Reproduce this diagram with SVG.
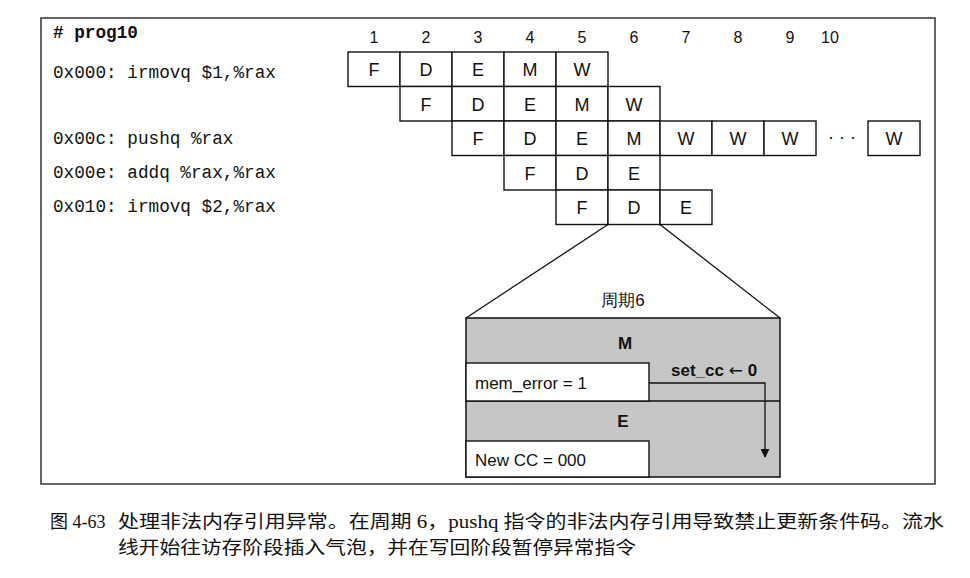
<svg xmlns="http://www.w3.org/2000/svg" width="970" height="578" viewBox="0 0 970 578">
<style>
.code{font-family:"Liberation Mono",monospace;font-size:17.7px;fill:#111}
.st{font-family:"Liberation Sans",Arial,sans-serif;font-size:18px;fill:#111;text-anchor:middle}
.num{font-family:"Liberation Sans",Arial,sans-serif;font-size:16px;fill:#111;text-anchor:middle}
.box{fill:#fff;stroke:#111;stroke-width:1.4}
.lbl{font-family:"Liberation Sans",Arial,sans-serif;font-size:17px;fill:#111}
.cap{font-family:"Liberation Serif","Noto Sans CJK SC",serif;font-size:18px;fill:#111}
.conn{fill:none;stroke:#111;stroke-width:1.3}
.shade{fill:#c6c6c6}
</style>
<defs>
<marker id="ah" viewBox="0 0 10 10" refX="9" refY="5" markerWidth="9" markerHeight="9" markerUnits="userSpaceOnUse" orient="auto">
<path d="M0,0 L10,5 L0,10 z" fill="#111"/>
</marker>
</defs>
<rect width="970" height="578" fill="#fff"/>
<rect id="frame" x="41" y="18" width="894" height="466" fill="none" stroke="#333" stroke-width="1.5"/>

<g id="code">
<text class="code" x="53" y="38" font-weight="bold"># prog10</text>
<text class="code" x="53" y="78">0x000: irmovq $1,%rax</text>
<text class="code" x="53" y="144">0x00c: pushq %rax</text>
<text class="code" x="53" y="178">0x00e: addq %rax,%rax</text>
<text class="code" x="53" y="212">0x010: irmovq $2,%rax</text>
</g>

<g id="cycles">
<text class="num" x="374" y="43">1</text>
<text class="num" x="426" y="43">2</text>
<text class="num" x="478" y="43">3</text>
<text class="num" x="530" y="43">4</text>
<text class="num" x="582" y="43">5</text>
<text class="num" x="634" y="43">6</text>
<text class="num" x="686" y="43">7</text>
<text class="num" x="738" y="43">8</text>
<text class="num" x="790" y="43">9</text>
<text class="num" x="830" y="43">10</text>
</g>

<g id="row1">
<rect class="box" x="348" y="52" width="52" height="34.5"/><text class="st" x="374" y="76">F</text>
<rect class="box" x="400" y="52" width="52" height="34.5"/><text class="st" x="426" y="76">D</text>
<rect class="box" x="452" y="52" width="52" height="34.5"/><text class="st" x="478" y="76">E</text>
<rect class="box" x="504" y="52" width="52" height="34.5"/><text class="st" x="530" y="76">M</text>
<rect class="box" x="556" y="52" width="52" height="34.5"/><text class="st" x="582" y="76">W</text>
</g>
<g id="row2">
<rect class="box" x="400" y="86.5" width="52" height="34.5"/><text class="st" x="426" y="110.5">F</text>
<rect class="box" x="452" y="86.5" width="52" height="34.5"/><text class="st" x="478" y="110.5">D</text>
<rect class="box" x="504" y="86.5" width="52" height="34.5"/><text class="st" x="530" y="110.5">E</text>
<rect class="box" x="556" y="86.5" width="52" height="34.5"/><text class="st" x="582" y="110.5">M</text>
<rect class="box" x="608" y="86.5" width="52" height="34.5"/><text class="st" x="634" y="110.5">W</text>
</g>
<g id="row3">
<rect class="box" x="452" y="121" width="52" height="34.5"/><text class="st" x="478" y="145">F</text>
<rect class="box" x="504" y="121" width="52" height="34.5"/><text class="st" x="530" y="145">D</text>
<rect class="box" x="556" y="121" width="52" height="34.5"/><text class="st" x="582" y="145">E</text>
<rect class="box" x="608" y="121" width="52" height="34.5"/><text class="st" x="634" y="145">M</text>
<rect class="box" x="660" y="121" width="52" height="34.5"/><text class="st" x="686" y="145">W</text>
<rect class="box" x="712" y="121" width="52" height="34.5"/><text class="st" x="738" y="145">W</text>
<rect class="box" x="764" y="121" width="52" height="34.5"/><text class="st" x="790" y="145">W</text>
<text class="st" x="842" y="143">· · ·</text>
<rect class="box" x="868" y="121" width="52" height="34.5"/><text class="st" x="894" y="145">W</text>
</g>
<g id="row4">
<rect class="box" x="504" y="155.5" width="52" height="34.5"/><text class="st" x="530" y="179.5">F</text>
<rect class="box" x="556" y="155.5" width="52" height="34.5"/><text class="st" x="582" y="179.5">D</text>
<rect class="box" x="608" y="155.5" width="52" height="34.5"/><text class="st" x="634" y="179.5">E</text>
</g>
<g id="row5">
<rect class="box" x="556" y="190" width="52" height="34.5"/><text class="st" x="582" y="214">F</text>
<rect class="box" x="608" y="190" width="52" height="34.5"/><text class="st" x="634" y="214">D</text>
<rect class="box" x="660" y="190" width="52" height="34.5"/><text class="st" x="686" y="214">E</text>
</g>

<g id="zoomlines">
<line class="conn" x1="608" y1="224.5" x2="466" y2="318"/>
<line class="conn" x1="660" y1="224.5" x2="780" y2="318"/>
</g>

<g id="cycle6">
<text class="lbl" x="623" y="306" text-anchor="middle" font-family="'Liberation Sans','Noto Sans CJK SC',sans-serif" font-size="17">周期6</text>
<rect class="shade" x="466" y="318" width="314" height="159"/>
<rect x="466" y="318" width="314" height="159" fill="none" stroke="#111" stroke-width="1.5"/>
<line x1="466" y1="401" x2="780" y2="401" stroke="#111" stroke-width="1.5"/>
<text class="lbl" x="625" y="349" text-anchor="middle" font-weight="bold" font-size="18">M</text>
<text class="lbl" x="623" y="427" text-anchor="middle" font-weight="bold" font-size="18">E</text>
<g id="memerr">
<rect class="box" x="466" y="363" width="183" height="38"/>
<text class="lbl" x="475" y="389">mem_error = 1</text>
</g>
<g id="newcc">
<rect class="box" x="466" y="441" width="183" height="36"/>
<text class="lbl" x="475" y="466">New CC = 000</text>
</g>
<text class="lbl" x="671" y="376" font-weight="bold" font-size="16">set_cc <tspan font-family="'DejaVu Sans',sans-serif" font-weight="normal">←</tspan> 0</text>
</g>

<g id="connectors">
<polyline class="conn" points="649,383 765,383 765,457" stroke-width="2" marker-end="url(#ah)"/>
</g>

<g id="caption">
<text class="cap" x="50" y="528">图 4-63</text>
<text class="cap" x="118" y="528" textLength="826" lengthAdjust="spacingAndGlyphs">处理非法内存引用异常。在周期 6，pushq 指令的非法内存引用导致禁止更新条件码。流水</text>
<text class="cap" x="118" y="554" textLength="518" lengthAdjust="spacingAndGlyphs">线开始往访存阶段插入气泡，并在写回阶段暂停异常指令</text>
</g>
</svg>
